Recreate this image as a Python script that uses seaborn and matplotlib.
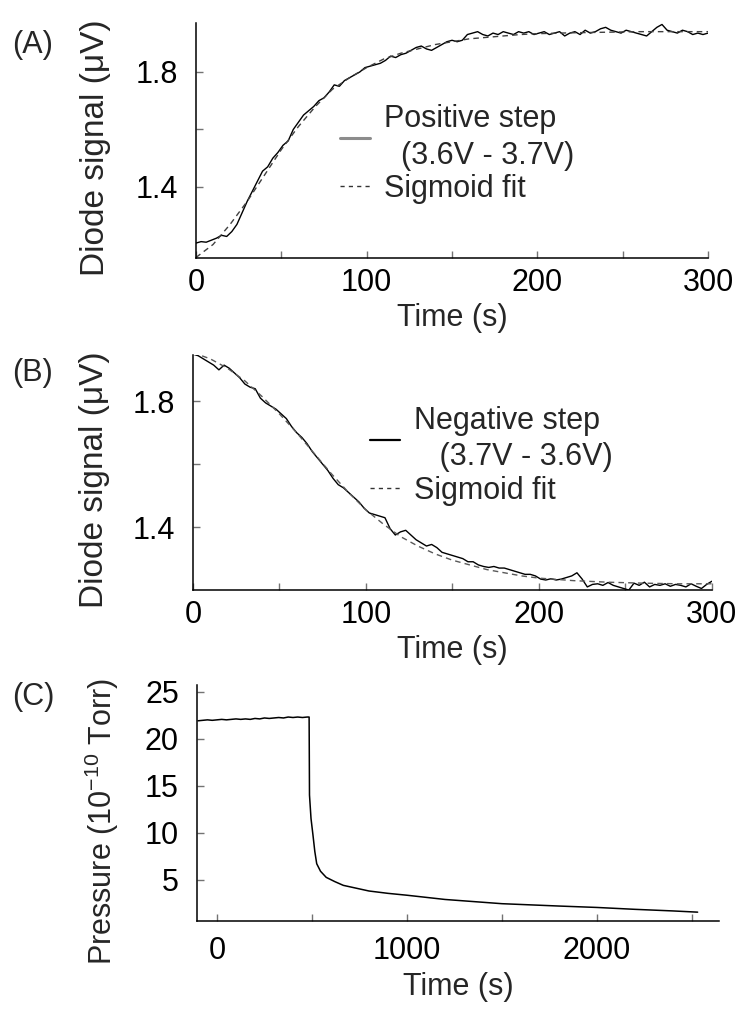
import matplotlib
matplotlib.use('Agg')
import matplotlib.pyplot as plt
from matplotlib.lines import Line2D
import seaborn as sns
import numpy as np

# Stil ayarları
sns.set_theme(style='ticks')
plt.rcParams['font.family'] = ['Liberation Sans', 'DejaVu Sans']
plt.rcParams['mathtext.fontset'] = 'custom'
plt.rcParams['mathtext.rm'] = 'Liberation Sans'
plt.rcParams['mathtext.it'] = 'Liberation Sans:italic'
plt.rcParams['axes.unicode_minus'] = True

FS = 22

# (A) positive step, 3 s sampling 0..300 s
pos_signal = [1.205, 1.21, 1.208, 1.215, 1.222, 1.232, 1.228, 1.245, 1.27, 1.31,
              1.35, 1.385, 1.42, 1.455, 1.47, 1.50, 1.52, 1.545, 1.56, 1.60,
              1.625, 1.65, 1.665, 1.68, 1.70, 1.71, 1.73, 1.755, 1.75, 1.77,
              1.78, 1.79, 1.80, 1.815, 1.82, 1.825, 1.83, 1.84, 1.855, 1.85,
              1.86, 1.865, 1.875, 1.885, 1.89, 1.88, 1.875, 1.885, 1.895, 1.905,
              1.91, 1.905, 1.91, 1.93, 1.935, 1.94, 1.93, 1.925, 1.935, 1.93,
              1.94, 1.935, 1.93, 1.94, 1.935, 1.94, 1.93, 1.935, 1.94, 1.93,
              1.935, 1.94, 1.925, 1.935, 1.94, 1.93, 1.945, 1.935, 1.94, 1.95,
              1.955, 1.945, 1.94, 1.935, 1.945, 1.94, 1.935, 1.93, 1.925, 1.94,
              1.955, 1.965, 1.945, 1.94, 1.935, 1.945, 1.94, 1.93, 1.935, 1.93,
              1.935]
fit_time = [0, 10, 20, 30, 40, 50, 60, 70, 80, 90, 100, 110, 120, 130, 140,
            150, 160, 170, 180, 190, 200, 220, 240, 260, 280, 300]
pos_fit = [1.155, 1.20, 1.27, 1.35, 1.44, 1.53, 1.61, 1.68, 1.74, 1.78, 1.815,
           1.845, 1.865, 1.88, 1.895, 1.905, 1.915, 1.92, 1.925, 1.93, 1.933,
           1.936, 1.938, 1.94, 1.94, 1.94]

# (B) negative step
neg_signal = [1.95, 1.945, 1.935, 1.925, 1.915, 1.90, 1.915, 1.905, 1.89, 1.875,
              1.855, 1.845, 1.84, 1.81, 1.795, 1.785, 1.775, 1.76, 1.745, 1.72,
              1.70, 1.685, 1.665, 1.64, 1.62, 1.60, 1.58, 1.555, 1.535, 1.525,
              1.51, 1.495, 1.48, 1.46, 1.445, 1.44, 1.435, 1.43, 1.395, 1.375,
              1.385, 1.39, 1.375, 1.36, 1.35, 1.34, 1.345, 1.335, 1.32, 1.315,
              1.31, 1.305, 1.30, 1.29, 1.29, 1.28, 1.275, 1.272, 1.275, 1.27,
              1.27, 1.265, 1.26, 1.255, 1.25, 1.25, 1.245, 1.235, 1.232, 1.236,
              1.232, 1.235, 1.24, 1.245, 1.255, 1.235, 1.21, 1.218, 1.22, 1.215,
              1.224, 1.215, 1.21, 1.205, 1.20, 1.222, 1.215, 1.225, 1.21, 1.218,
              1.215, 1.22, 1.212, 1.218, 1.215, 1.21, 1.22, 1.212, 1.205, 1.218,
              1.228]
neg_fit = [1.955, 1.935, 1.905, 1.865, 1.815, 1.76, 1.70, 1.635, 1.57, 1.51,
           1.455, 1.41, 1.37, 1.34, 1.315, 1.295, 1.28, 1.265, 1.255, 1.245,
           1.238, 1.23, 1.225, 1.222, 1.22, 1.22]

# (C) pressure
p_time = [-100, -75, -50, -25, 0, 25, 50, 75, 100, 125, 150, 175, 200, 225, 250,
          275, 300, 325, 350, 375, 400, 425, 450, 475, 485, 487, 495, 505, 515,
          525, 545, 575, 620, 665, 800, 900, 1000, 1200, 1500, 1800, 2000, 2200,
          2400, 2530]
pressure = [21.9, 21.95, 22.0, 21.95, 22.0, 22.05, 22.0, 22.05, 22.1, 22.05,
            22.1, 22.05, 22.15, 22.1, 22.2, 22.15, 22.2, 22.25, 22.2, 22.3,
            22.25, 22.3, 22.25, 22.3, 22.3, 14.0, 11.5, 9.8, 8.0, 6.7, 5.9, 5.25,
            4.8, 4.4, 3.8, 3.55, 3.35, 2.9, 2.45, 2.2, 2.05, 1.85, 1.68, 1.55]


def style_axis(ax, xpad, ypad):
    sns.despine(ax=ax)
    for s in ('left', 'bottom'):
        ax.spines[s].set_color('black')
        ax.spines[s].set_linewidth(1.1)
    ax.tick_params(which='both', direction='in', color='0.45', width=1,
                   labelsize=FS, labelcolor='black', length=5)
    ax.tick_params(axis='x', which='both', pad=xpad)
    ax.tick_params(axis='y', which='both', pad=ypad)
    ax.grid(False)


def add_legend(ax, handle, label, anchor):
    leg = ax.legend(handles=[handle,
                             Line2D([], [], color='0.2', lw=1, linestyle=(0, (3, 3)))],
                    labels=[label, 'Sigmoid fit'],
                    loc='upper left', bbox_to_anchor=anchor, frameon=False,
                    fontsize=FS, handlelength=1.0, handletextpad=0.45,
                    borderpad=0, borderaxespad=0, labelspacing=0.1)
    for t in leg.get_texts():
        t.set_linespacing(1.3)
    return leg


fig = plt.figure(figsize=(7.52, 10.28), dpi=100)
axA = fig.add_axes([0.2606, 0.749, 0.681, 0.2286])
axB = fig.add_axes([0.2566, 0.426, 0.690, 0.2286])
axC = fig.add_axes([0.262, 0.104, 0.694, 0.2296])

# Panel A
tA = np.linspace(0, 300, len(pos_signal))
sns.lineplot(x=tA, y=pos_signal, ax=axA, color='black', lw=1.0, estimator=None)
sns.lineplot(x=fit_time, y=pos_fit, ax=axA, color='0.25', lw=1.0,
             linestyle=(0, (4, 3)), estimator=None)
axA.set_xlim(0, 300)
axA.set_ylim(1.153, 1.97)
axA.set_xticks([0, 100, 200, 300])
axA.set_xticks([50, 150, 250], minor=True)
axA.set_yticks([1.4, 1.8])
axA.set_yticks([1.6], minor=True)
axA.set_yticklabels(['1.4', '1.8'])
style_axis(axA, 7, 13)
add_legend(axA, Line2D([], [], color='0.55', lw=2.2),
           'Positive step\n  (3.6V - 3.7V)', (0.281, 0.655))

# Panel B
tB = np.linspace(0, 300, len(neg_signal))
sns.lineplot(x=tB, y=neg_signal, ax=axB, color='black', lw=1.0, estimator=None)
sns.lineplot(x=fit_time, y=neg_fit, ax=axB, color='0.35', lw=1.0,
             linestyle=(0, (4, 3)), estimator=None)
axB.set_xlim(0, 300)
axB.set_ylim(1.2, 1.947)
axB.set_xticks([0, 100, 200, 300])
axB.set_xticks([50, 150, 250], minor=True)
axB.set_yticks([1.4, 1.8])
axB.set_yticks([1.6], minor=True)
axB.set_yticklabels(['1.4', '1.8'])
style_axis(axB, 7, 13)
add_legend(axB, Line2D([], [], color='black', lw=1.6),
           'Negative step\n   (3.7V - 3.6V)', (0.341, 0.785))

# Panel C
sns.lineplot(x=p_time, y=pressure, ax=axC, color='black', lw=1.1, estimator=None)
axC.set_xlim(-105, 2642)
axC.set_ylim(0.6, 25.7)
axC.set_xticks([0, 1000, 2000])
axC.set_xticks([500, 1500, 2500], minor=True)
axC.set_yticks([5, 10, 15, 20, 25])
style_axis(axC, 11, 13)

for ax in (axA, axB, axC):
    ax.set_xlabel('Time (s)', fontsize=FS)
axA.set_ylabel('Diode signal (\u03bcV)', fontsize=24)
axB.set_ylabel('Diode signal (\u03bcV)', fontsize=24)
axC.set_ylabel('Pressure (10$^{-10}$ Torr)', fontsize=FS)
axA.yaxis.set_label_coords(-0.166, 0.47)
axB.yaxis.set_label_coords(-0.16, 0.47)
axC.yaxis.set_label_coords(-0.146, 0.42)

fig.text(0.016, 0.956, '(A)', fontsize=FS, va='center')
fig.text(0.016, 0.637, '(B)', fontsize=FS, va='center')
fig.text(0.016, 0.322, '(C)', fontsize=FS, va='center')

fig.savefig('out.png', dpi=100, facecolor='white')
